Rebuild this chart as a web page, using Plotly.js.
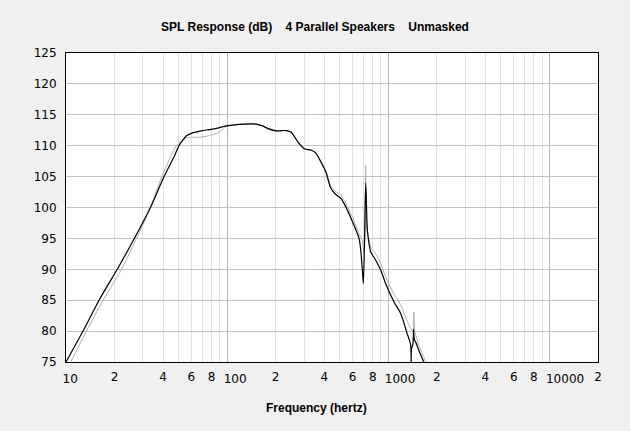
<!DOCTYPE html>
<html>
<head>
<meta charset="utf-8">
<script src="https://cdn.plot.ly/plotly-3.0.1.min.js"></script>
<style>html,body{margin:0;padding:0;background:#f0f0f0;}#chart{width:630px;height:431px;}</style>
</head>
<body>
<div id="chart"></div>
<script>
// Main (black) response
const blackFreq = [10, 12.8, 16.2, 21.1, 26.7, 33.4, 40.4, 47.2, 50.2, 53.1, 56, 59.9, 64, 69, 77, 85.5, 98.6, 119, 151, 166, 178, 201, 232, 249, 274, 301, 331, 355, 381, 409, 440, 472, 507, 545, 599, 658, 674, 690, 700, 712, 724, 741, 759, 778, 834, 896, 962, 1083, 1191, 1309, 1374, 1384, 1394, 1420, 1435, 1450, 1475, 1546, 1622, 1700];
const blackSPL  = [75, 80.1, 85.2, 90.3, 95.1, 100, 104.9, 108.4, 110, 110.9, 111.6, 112.0, 112.2, 112.4, 112.6, 112.8, 113.2, 113.45, 113.5, 113.2, 112.8, 112.4, 112.45, 112.2, 110.65, 109.5, 109.3, 108.8, 107.4, 105.8, 103.1, 102.1, 101.5, 100.1, 97.7, 95.0, 93.1, 89.9, 87.7, 95, 103.9, 96.4, 94.2, 92.8, 91.5, 89.9, 87.7, 84.75, 82.9, 79.6, 77.8, 71, 77.2, 77.8, 80.3, 78.6, 78.3, 76.9, 75.6, 74.3];

// Secondary (grey) response
const greyFreq = [10.7, 13.4, 17.0, 22.1, 27.4, 33.4, 39.3, 48.5, 53, 57, 60, 69, 81.5, 91.8, 98.6, 119, 151, 166, 178, 201, 232, 249, 274, 301, 331, 355, 381, 409, 440, 472, 507, 545, 599, 658, 690, 705, 712, 718, 724, 732, 759, 778, 834, 896, 962, 1083, 1191, 1309, 1380, 1420, 1440, 1460, 1546, 1640, 1783];
const greySPL  = [75, 80, 85, 90, 95, 100, 105, 110, 110.9, 111.3, 111.35, 111.4, 111.8, 112.4, 113.1, 113.45, 113.5, 113.2, 112.8, 112.4, 112.45, 112.2, 110.65, 109.5, 109.3, 108.8, 107.5, 106.0, 103.5, 102.6, 102.0, 100.7, 98.4, 95.8, 94.5, 92.5, 93.5, 97, 106.9, 97, 94.8, 93.6, 92.5, 91.0, 88.8, 86.0, 84.3, 81.6, 80.4, 79.8, 83.1, 80.0, 77.8, 76.1, 74];

// Axis ticks
const decadeVals = [10, 100, 1000, 10000];
const decadeText = ["10", "100", "1000", "10000"];
const minorGridVals = [20,30,40,50,60,70,80,90,200,300,400,500,600,700,800,900,2000,3000,4000,5000,6000,7000,8000,9000,20000];
const digitVals = [20,40,60,80,200,400,600,800,2000,4000,6000,8000,20000];
const digitText = ["2","4","6","8","2","4","6","8","2","4","6","8","2"];
const yVals = [75,80,85,90,95,100,105,110,115,120,125];

const tickFont = {family: "DejaVu Sans, sans-serif", size: 12, color: "#000"};
const titleFont = {family: "Liberation Sans, Arial, sans-serif", size: 12, color: "#000", weight: "bold"};
const xRange = [1, Math.log10(20000)];

const traces = [
  {x: greyFreq, y: greySPL, type: "scatter", mode: "lines", xaxis: "x", yaxis: "y",
   line: {color: "#b0b0b0", width: 1, shape: "spline", smoothing: 0.8}, hoverinfo: "skip", showlegend: false},
  {x: blackFreq, y: blackSPL, type: "scatter", mode: "lines", xaxis: "x2", yaxis: "y",
   line: {color: "#000000", width: 1.2, shape: "spline", smoothing: 0.8}, hoverinfo: "skip", showlegend: false}
];

const layout = {
  width: 630, height: 431,
  margin: {l: 66, r: 32, t: 53, b: 69, pad: 0},
  paper_bgcolor: "#f0f0f0", plot_bgcolor: "#ffffff",
  showlegend: false,
  title: {text: "SPL Response (dB)\u00a0\u00a0\u00a0\u00a04 Parallel Speakers\u00a0\u00a0\u00a0\u00a0Unmasked",
          font: titleFont, x: 0.5, xref: "container", xanchor: "center", y: 1 - 27/431, yref: "container", yanchor: "middle"},
  xaxis: {type: "log", range: xRange, fixedrange: true,
          tickmode: "array", tickvals: decadeVals, ticktext: decadeText,
          ticklabelposition: "outside right", ticklabelshift: -4,
          showgrid: true, gridcolor: "#b4b4b4", gridwidth: 1,
          minor: {tickmode: "array", tickvals: minorGridVals, showgrid: true, gridcolor: "#e2e2e2", gridwidth: 1, ticks: ""},
          showline: true, linecolor: "#000", linewidth: 1, mirror: true,
          ticks: "", ticklabelstandoff: 6, tickfont: tickFont, zeroline: false},
  xaxis2: {type: "log", range: xRange, overlaying: "x", anchor: "y", side: "bottom", fixedrange: true,
          tickmode: "array", tickvals: digitVals, ticktext: digitText,
          showgrid: false, showline: false, ticks: "", ticklabelstandoff: 6, tickfont: tickFont, zeroline: false},
  yaxis: {range: [75, 125], fixedrange: true, tickmode: "array", tickvals: yVals,
          showgrid: true, gridcolor: "#c4c4c4", gridwidth: 1,
          showline: true, linecolor: "#000", linewidth: 1, mirror: true,
          ticks: "", ticklabelstandoff: 6, tickfont: tickFont, zeroline: false},
  annotations: [
    {text: "Frequency (hertz)", font: titleFont, xref: "paper", yref: "paper",
     x: (316 - 66) / 532, y: -(408 - 362) / 309, xanchor: "center", yanchor: "middle", showarrow: false}
  ]
};

Plotly.newPlot("chart", traces, layout, {staticPlot: true, displayModeBar: false});
</script>
</body>
</html>
